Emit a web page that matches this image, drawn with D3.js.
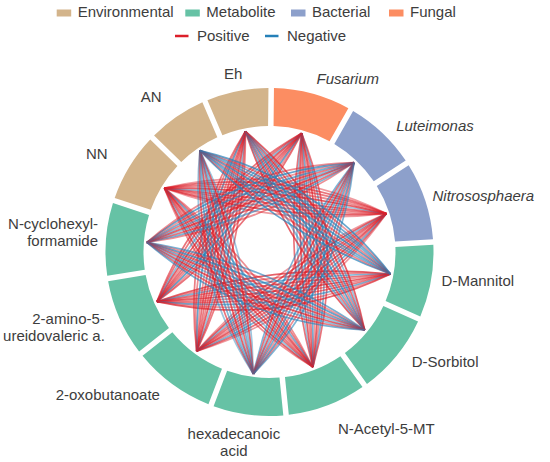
<!DOCTYPE html>
<html><head><meta charset="utf-8">
<script src="https://cdn.jsdelivr.net/npm/d3@7"></script>
<style>body{margin:0;background:#fff}svg{display:block}</style>
</head><body>
<svg id="c" width="550" height="462"></svg>
<script>
// ---------------- DATA ----------------
const nodes = ["Fusarium","Luteimonas","Nitrososphaera","D-Mannitol","D-Sorbitol","N-Acetyl-5-MT",
  "hexadecanoic acid","2-oxobutanoate","2-amino-5-ureidovaleric a.","N-cyclohexyl-formamide","NN","AN","Eh"];
const nodeGroup = ["Fungal","Bacterial","Bacterial","Metabolite","Metabolite","Metabolite",
  "Metabolite","Metabolite","Metabolite","Metabolite","Environmental","Environmental","Environmental"];
const nodeSize = [29.1,27.4,29.4,27.6,30.4,29.7,26.7,30.8,29.0,27.6,26.0,22.5,23.8];
const nodeLabelLines = [["Fusarium"],["Luteimonas"],["Nitrososphaera"],["D-Mannitol"],["D-Sorbitol"],["N-Acetyl-5-MT"],
  ["hexadecanoic","acid"],["2-oxobutanoate"],["2-amino-5-","ureidovaleric a."],["N-cyclohexyl-","formamide"],["NN"],["AN"],["Eh"]];
const italicNodes = ["Fusarium","Luteimonas","Nitrososphaera"];

const groups = ["Environmental","Metabolite","Bacterial","Fungal"];
const groupColors = ["#d3b48b","#66c2a5","#8da0cb","#fc8d62"];
const signs = ["Positive","Negative"];
const signColors = ["#dc1f2a","#2580b8"];

// correlation bundles: source, target, number of positive and negative correlations
const linkSource   = ["Fusarium","Nitrososphaera","D-Mannitol","N-Acetyl-5-MT","2-oxobutanoate","2-amino-5-ureidovaleric a.","NN","Eh","N-cyclohexyl-formamide","Luteimonas","D-Sorbitol","hexadecanoic acid","AN"];
const linkTarget   = ["N-Acetyl-5-MT","2-oxobutanoate","2-amino-5-ureidovaleric a.","NN","Eh","Fusarium","Nitrososphaera","D-Sorbitol","Luteimonas","hexadecanoic acid","N-cyclohexyl-formamide","AN","D-Mannitol"];
const linkPositive = [8,9,9,9,9,9,10,6,6,5,5,4,4];
const linkNegative = [3,2,2,2,2,2,1,5,5,6,6,7,7];

// ---------------- LAYOUT ----------------
const cx = 269.5, cy = 252, rIn = 126, rOut = 164, rAnchor = 123, gapPx = 5.5, labelR = 180;
const startDeg = 0.6;
const bendIn = -26, bendOut = 40;   // control-point offsets of a bundle's curves
const alphaCycle = [0.62, 0.45, 0.7, 0.5, 0.58];
const labelNudge = {"Luteimonas":[3,5],"Nitrososphaera":[-8,0],"D-Mannitol":[-5,-3],"D-Sorbitol":[3,-4],
  "N-Acetyl-5-MT":[5,8],"hexadecanoic acid":[-12,12],"2-oxobutanoate":[-3,-2],"2-amino-5-ureidovaleric a.":[0,3],
  "N-cyclohexyl-formamide":[8,-6],"NN":[-8,-5],"AN":[-6,-7],"Eh":[-1,-2]};
const FONT = "'Liberation Sans', Arial, sans-serif";
const TXT = "#3d3d3d";

const svg = d3.select("#c");
const color = d3.scaleOrdinal().domain(groups).range(groupColors);
const signColor = d3.scaleOrdinal().domain(signs).range(signColors);

const s0 = startDeg * Math.PI / 180;
const pie = d3.pie().value(d => d).sort(null).startAngle(s0).endAngle(s0 + 2 * Math.PI);
const slices = pie(nodeSize);
const arc = d3.arc().innerRadius(rIn).outerRadius(rOut).padAngle(gapPx / rOut).padRadius(rOut);
const angleOf = {};
nodes.forEach((n, i) => angleOf[n] = (slices[i].startAngle + slices[i].endAngle) / 2);
const pt = (a, r) => [r * Math.sin(a), -r * Math.cos(a)];

const g = svg.append("g").attr("transform", `translate(${cx},${cy})`);

// ---- chords ----
const lines = [];
linkSource.forEach((s, k) => {
  const t = linkTarget[k];
  const nPos = linkPositive[k], nNeg = linkNegative[k], n = nPos + nNeg;
  const negIdx = new Set(d3.range(nNeg).map(i => Math.round((i + 0.5) * n / nNeg - 0.5)));
  const P = pt(angleOf[s], rAnchor), Q = pt(angleOf[t], rAnchor);
  const M = [(P[0] + Q[0]) / 2, (P[1] + Q[1]) / 2];
  const mLen = Math.hypot(M[0], M[1]);
  const nrm = [M[0] / mLen, M[1] / mLen];
  for (let j = 0; j < n; j++) {
    const f = n > 1 ? j / (n - 1) : 0.5;
    const d = bendIn + (bendOut - bendIn) * f;
    const C = [M[0] + nrm[0] * d, M[1] + nrm[1] * d];
    lines.push({P, Q, C, sign: negIdx.has(j) ? "Negative" : "Positive", alpha: alphaCycle[(j + k) % alphaCycle.length]});
  }
});
g.append("g").attr("fill", "none")
  .selectAll("path").data(lines).join("path")
  .attr("d", d => { const p = d3.path(); p.moveTo(...d.P); p.quadraticCurveTo(...d.C, ...d.Q); return p.toString(); })
  .attr("stroke", d => signColor(d.sign))
  .attr("stroke-width", 1.7)
  .attr("stroke-opacity", d => d.alpha);

// ---- ring ----
g.append("g").selectAll("path").data(slices).join("path")
  .attr("d", arc).attr("fill", (d, i) => color(nodeGroup[i]));

// ---- labels ----
const lab = g.append("g").attr("font-family", FONT).attr("font-size", 15).attr("fill", TXT);
nodes.forEach((n, i) => {
  const a = angleOf[n];
  const [x0, y0] = pt(a, labelR);
  const nd = labelNudge[n] || [0, 0];
  const sa = Math.sin(a);
  const anchor = Math.abs(sa) < 0.25 ? "middle" : (sa > 0 ? "start" : "end");
  const ls = nodeLabelLines[i];
  const lh = 17;
  const t = lab.append("text").attr("text-anchor", anchor)
    .attr("font-style", italicNodes.includes(n) ? "italic" : "normal");
  ls.forEach((s, k) => {
    t.append("tspan").attr("x", x0 + nd[0])
      .attr("y", y0 + nd[1] + (k - (ls.length - 1) / 2) * lh)
      .attr("dy", "0.35em").text(s);
  });
});

// ---- legend ----
const leg = svg.append("g").attr("font-family", FONT).attr("font-size", 15).attr("fill", TXT);
const row1X = [56.7, 185.3, 291, 389];
groups.forEach((gr, i) => {
  leg.append("rect").attr("x", row1X[i]).attr("y", 9.5).attr("width", 14.5).attr("height", 7).attr("fill", color(gr));
  leg.append("text").attr("x", row1X[i] + 21).attr("y", 12).attr("dy", "0.35em").text(gr);
});
const row2X = [175, 265];
signs.forEach((s, i) => {
  leg.append("line").attr("x1", row2X[i]).attr("x2", row2X[i] + 13.5).attr("y1", 36).attr("y2", 36)
    .attr("stroke", signColor(s)).attr("stroke-width", 2.5);
  leg.append("text").attr("x", row2X[i] + 22).attr("y", 36).attr("dy", "0.35em").text(s);
});
</script>
</body></html>
